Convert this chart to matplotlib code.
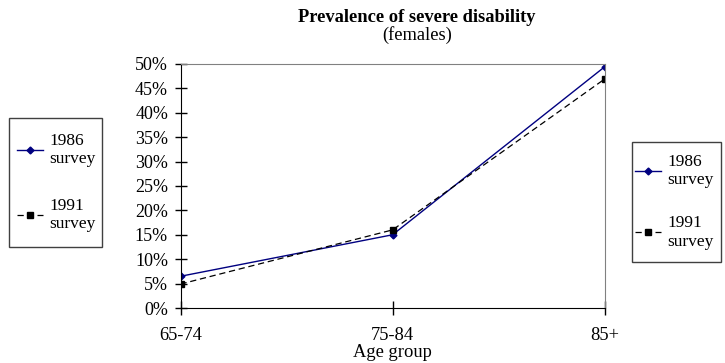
import matplotlib.pyplot as plt
from matplotlib.patches import Rectangle

plt.rcParams['font.family'] = ['Liberation Serif', 'DejaVu Serif']

age_groups = ['65-74', '75-84', '85+']
survey_1986 = [6.5, 15.0, 49.4]
survey_1991 = [4.9, 16.0, 46.9]
yticks = [0, 5, 10, 15, 20, 25, 30, 35, 40, 45, 50]

W, H = 725, 363
fig = plt.figure(figsize=(7.25, 3.63), dpi=100)
ax = fig.add_axes([0.249, 0.1515, 0.585, 0.6725])

x = list(range(len(age_groups)))
l1, = ax.plot(x, survey_1986, color='#000080', lw=1, marker='D', ms=3.5,
              label='1986\nsurvey')
l2, = ax.plot(x, survey_1991, color='black', lw=0.9, ls=(0, (5, 3)), marker='s',
              ms=4, label='1991\nsurvey')

ax.set_xlim(0, 2)
ax.set_ylim(0, 50)
ax.set_xticks(x)
ax.set_xticklabels(age_groups)
ax.set_yticks(yticks)
ax.set_yticklabels([f'{v}%' for v in yticks])
ax.tick_params(axis='y', direction='inout', length=8, width=1, labelsize=13, pad=5)
ax.tick_params(axis='x', direction='inout', length=10, width=1, labelsize=13.3, pad=9)
for s in ['top', 'right']:
    ax.spines[s].set_color('#808080')
for s in ['left', 'bottom']:
    ax.spines[s].set_color('black')
ax.set_xlabel('Age group', fontsize=13.3, labelpad=0)

fig.text(0.575, 0.953, 'Prevalence of severe disability', ha='center', va='center',
         fontsize=13.3, fontweight='bold')
fig.text(0.575, 0.904, '(females)', ha='center', va='center', fontsize=13.3)

# legend boxes drawn by hand (pixel boxes from the reference)
for (x0, y0, x1, y1) in [(9, 118, 102, 247), (632, 142, 721, 262)]:
    fig.patches.append(Rectangle((x0 / W, 1 - y1 / H), (x1 - x0) / W, (y1 - y0) / H,
                                 transform=fig.transFigure, fill=False,
                                 edgecolor='#404040', lw=1))

leg_kw = dict(fontsize=12.5, frameon=False, handlelength=1.5, handletextpad=0.35,
              borderaxespad=0, borderpad=0, loc='upper left')
fig.legend(handles=[l1, l2], bbox_to_anchor=(17 / W, 1 - 133 / H),
           labelspacing=1.75, **leg_kw)
fig.legend(handles=[l1, l2], bbox_to_anchor=(635 / W, 1 - 154 / H),
           labelspacing=1.55, **leg_kw)

fig.savefig('out.png', dpi=100)
